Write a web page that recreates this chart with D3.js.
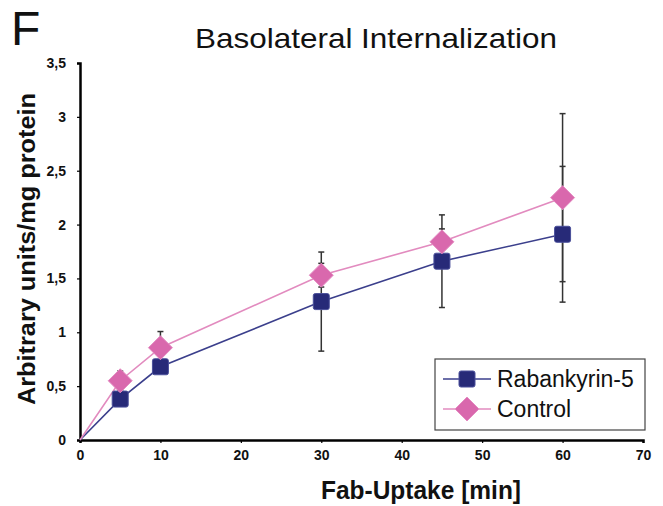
<!DOCTYPE html>
<html>
<head>
<meta charset="utf-8">
<script src="https://cdn.jsdelivr.net/npm/d3@7"></script>
<style>
  body { margin: 0; background: #fff; }
  svg { font-family: "Liberation Sans", Arial, sans-serif; }
  .axis text { font-size: 14px; font-weight: bold; font-family: "Liberation Sans", Arial, sans-serif; }
</style>
</head>
<body>
<div id="chart"></div>
<script>
// Data
const times = [0, 5, 10, 30, 45, 60];
const rabValues = [0, 0.38, 0.68, 1.285, 1.66, 1.91];
const rabErrors = [0, 0.06, 0.04, 0.46, 0.43, 0.63];
const ctrlValues = [0, 0.55, 0.857, 1.53, 1.84, 2.25];
const ctrlErrors = [0, 0.09, 0.15, 0.11, 0.12, 0.78];
const xTicks = [0, 10, 20, 30, 40, 50, 60, 70];
const yTicks = [0, 0.5, 1, 1.5, 2, 2.5, 3, 3.5];
const seriesNames = ["Rabankyrin-5", "Control"];

const W = 663, H = 506;
const margin = { top: 63, right: 20, bottom: 66, left: 80 };
const width = 643 - margin.left;
const height = 440 - margin.top;

const svg = d3.select("#chart")
    .append("svg")
    .attr("width", W)
    .attr("height", H);

const g = svg.append("g")
    .attr("transform", `translate(${margin.left},${margin.top})`);

const x = d3.scaleLinear().domain([0, 70]).range([0, width]);
const y = d3.scaleLinear().domain([0, 3.5]).range([height, 0]);

const comma = d => String(d).replace(".", ",");

// Axes
const xAxis = g.append("g")
    .attr("class", "axis")
    .attr("transform", `translate(0,${height})`)
    .call(d3.axisBottom(x).tickValues(xTicks).tickSize(3).tickPadding(7).tickFormat(d3.format("d")));
const yAxis = g.append("g")
    .attr("class", "axis")
    .call(d3.axisLeft(y).tickValues(yTicks).tickSize(3).tickPadding(11).tickFormat(comma));

[xAxis, yAxis].forEach(a => {
    a.select(".domain").attr("stroke", "#000").attr("stroke-width", 2.5);
    a.selectAll(".tick line").attr("stroke", "#000").attr("stroke-width", 1.2);
    a.selectAll(".tick text").attr("fill", "#111");
});

const series = [
    { name: seriesNames[0], values: rabValues, errors: rabErrors, line: "#3b3f8c", fill: "#272a78", stroke: "#4a4f9a", shape: "square" },
    { name: seriesNames[1], values: ctrlValues, errors: ctrlErrors, line: "#e28bbf", fill: "#d968ad", stroke: "#e48cc2", shape: "diamond" }
];

const line = d3.line()
    .x((d, i) => x(times[i]))
    .y(d => y(d));

// Lines
series.forEach(s => {
    g.append("path")
        .attr("d", line(s.values))
        .attr("fill", "none")
        .attr("stroke", s.line)
        .attr("stroke-width", 1.6);
});

// Error bars
series.forEach(s => {
    const eb = g.append("g").attr("stroke", "#333").attr("stroke-width", 1.5);
    s.values.forEach((v, i) => {
        const e = s.errors[i];
        if (!e) return;
        const cx = x(times[i]);
        eb.append("line").attr("x1", cx).attr("x2", cx).attr("y1", y(v - e)).attr("y2", y(v + e));
        [v - e, v + e].forEach(end => {
            eb.append("line").attr("x1", cx - 3).attr("x2", cx + 3).attr("y1", y(end)).attr("y2", y(end));
        });
    });
});

// Markers
function drawMarker(sel, s, cx, cy) {
    if (s.shape === "square") {
        sel.append("rect")
            .attr("x", cx - 8).attr("y", cy - 8)
            .attr("width", 16).attr("height", 16)
            .attr("rx", 2)
            .attr("fill", s.fill).attr("stroke", s.stroke).attr("stroke-width", 1);
    } else {
        sel.append("path")
            .attr("d", `M${cx},${cy - 12}L${cx + 12},${cy}L${cx},${cy + 12}L${cx - 12},${cy}Z`)
            .attr("fill", s.fill).attr("stroke", s.stroke).attr("stroke-width", 1)
            .attr("stroke-linejoin", "round");
    }
}

series.forEach(s => {
    s.values.forEach((v, i) => {
        if (times[i] === 0) return;
        drawMarker(g, s, x(times[i]), y(v));
    });
});

// Legend
const legend = svg.append("g").attr("transform", "translate(435,359)");
legend.append("rect")
    .attr("width", 210).attr("height", 71)
    .attr("fill", "#fff").attr("stroke", "#444").attr("stroke-width", 1.2);
series.forEach((s, i) => {
    const ly = 20 + i * 30;
    legend.append("line")
        .attr("x1", 8).attr("x2", 56).attr("y1", ly).attr("y2", ly)
        .attr("stroke", s.line).attr("stroke-width", 1.6);
    drawMarker(legend, s, 32, ly);
    legend.append("text")
        .attr("x", 62).attr("y", ly + 8)
        .style("font-size", "23px")
        .attr("fill", "#111")
        .text(s.name);
});

// Titles and labels
svg.append("text")
    .attr("x", 11).attr("y", 45)
    .style("font-size", "48px")
    .attr("fill", "#111")
    .text("F");

svg.append("text")
    .attr("x", 195).attr("y", 48)
    .attr("textLength", 362)
    .attr("lengthAdjust", "spacingAndGlyphs")
    .style("font-size", "28px")
    .attr("fill", "#111")
    .text("Basolateral Internalization");

svg.append("text")
    .attr("x", 321).attr("y", 499)
    .attr("textLength", 200)
    .attr("lengthAdjust", "spacingAndGlyphs")
    .style("font-size", "25px")
    .style("font-weight", "bold")
    .attr("fill", "#111")
    .text("Fab-Uptake [min]");

svg.append("text")
    .attr("transform", "translate(35,405) rotate(-90)")
    .attr("textLength", 312)
    .attr("lengthAdjust", "spacingAndGlyphs")
    .style("font-size", "24px")
    .style("font-weight", "bold")
    .attr("fill", "#111")
    .text("Arbitrary units/mg protein");
</script>
</body>
</html>
